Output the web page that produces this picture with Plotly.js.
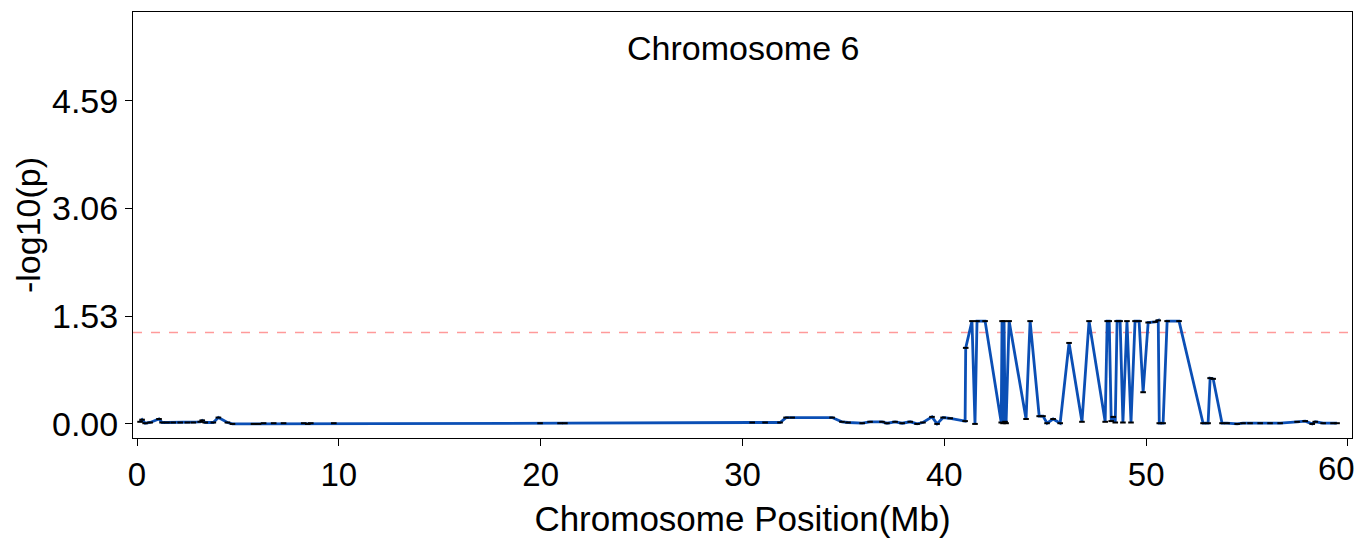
<!DOCTYPE html>
<html>
<head>
<meta charset="utf-8">
<script src="https://cdn.plot.ly/plotly-3.0.1.min.js"></script>
<style>html,body{margin:0;padding:0;background:#fff;}#chart{width:1357px;height:546px;}</style>
</head>
<body>
<div id="chart"></div>
<script>
// Chromosome position (Mb)
const positionMb = [
  0.15,0.25,0.40,0.65,1.09,1.24,1.49,1.79,2.14,2.49,2.79,3.13,3.23,3.38,3.78,4.03,4.48,4.73,5.77,6.02,6.27,6.77,7.26,8.26,8.46,8.61,9.75,
  19.97,20.96,21.20,
  30.48,31.12,31.86,32.16,32.46,34.44,34.93,35.23,35.93,36.32,36.91,37.16,37.56,37.91,38.31,38.65,38.94,39.39,39.64,39.94,40.29,
  41.03,41.06,41.37,41.52,41.62,42.02,42.82,42.86,42.91,42.96,43.01,43.06,43.21,44.05,44.25,44.70,44.89,45.09,45.39,45.74,46.18,46.82,47.17,
  47.97,48.07,48.17,48.27,48.37,48.47,48.56,48.71,48.85,49.05,49.25,49.45,49.65,49.85,50.10,50.45,50.60,50.65,50.84,51.04,51.63,
  52.82,53.07,53.17,53.32,53.76,54.01,54.51,54.80,55.15,55.65,56.14,56.64,57.48,57.88,58.23,58.38,58.77,59.26,59.46
];
// -log10(p)
const negLogP = [
  0.03,0.06,0.01,0.02,0.07,0.02,0.02,0.02,0.02,0.02,0.02,0.03,0.05,0.02,0.02,0.09,0.02,0.00,0.00,0.00,0.01,0.01,0.01,0.01,0.00,0.01,0.01,
  0.01,0.01,0.01,
  0.02,0.02,0.02,0.09,0.09,0.09,0.03,0.02,0.01,0.03,0.03,0.01,0.03,0.01,0.03,0.00,0.02,0.10,0.00,0.09,0.08,
  0.04,1.08,1.46,0.00,1.46,1.46,0.02,1.46,0.01,1.46,0.03,0.01,1.46,0.07,1.46,0.11,0.11,0.01,0.07,0.01,1.15,0.03,1.46,
  0.03,1.46,1.46,0.04,0.10,0.02,1.46,1.46,0.02,1.46,0.02,1.46,1.46,0.45,1.44,1.45,1.47,0.01,0.01,1.46,1.46,
  0.01,0.01,0.65,0.64,0.01,0.01,0.00,0.01,0.01,0.01,0.01,0.01,0.03,0.04,0.00,0.03,0.01,0.01,0.01
];
const chromosomeLabel = "Chromosome 6";
const yTickVals = [0, 1.53, 3.06, 4.59];
const yTickText = ["0.00", "1.53", "3.06", "4.59"];
const xTickVals = [0, 10, 20, 30, 40, 50, 60];
const xTickText = ["0", "10", "20", "30", "40", "50", ""];
const lastXTick = {value: 60, label: "60"};
const threshold = 1.30;

const trace = {
  x: positionMb, y: negLogP, type: 'scatter', mode: 'lines+markers',
  line: {color: '#0b4fb5', width: 2.8},
  marker: {symbol: 'line-ew-open', size: 4, color: '#000', line: {color: '#000', width: 2}},
  hoverinfo: 'x+y'
};

const font = 'Liberation Sans, Arial, sans-serif';
const layout = {
  width: 1357, height: 546,
  margin: {l: 133, r: 5, t: 12, b: 108},
  paper_bgcolor: '#fff', plot_bgcolor: '#fff',
  showlegend: false,
  font: {family: font, color: '#000'},
  xaxis: {
    range: [-0.2, 60.2], tickvals: xTickVals, ticktext: xTickText, ticks: 'outside', ticklen: 7, tickcolor: '#000',
    showline: true, linecolor: '#000', linewidth: 1, mirror: true, showgrid: false, zeroline: false,
    tickfont: {size: 33, family: font, color: '#000'},
    title: {text: 'Chromosome Position(Mb)', font: {size: 35, family: font, color: '#000'}, standoff: 14}
  },
  yaxis: {
    range: [-0.2, 5.85], tickvals: yTickVals, ticktext: yTickText, ticks: 'outside', ticklen: 7, tickcolor: '#000',
    showline: true, linecolor: '#000', linewidth: 1, mirror: true, showgrid: false, zeroline: false,
    tickfont: {size: 34, family: font, color: '#000'},
    title: {text: '-log10(p)', font: {size: 34, family: font, color: '#000'}, standoff: 1}
  },
  shapes: [{
    type: 'line', xref: 'paper', x0: 0, x1: 1, yref: 'y', y0: threshold, y1: threshold,
    line: {color: '#ff9a9a', width: 1.5, dash: 'dash'}, layer: 'below'
  }],
  annotations: [{
    text: chromosomeLabel, xref: 'paper', yref: 'paper', x: 0.5, y: 0.915,
    xanchor: 'center', yanchor: 'middle', showarrow: false,
    font: {size: 34, family: font, color: '#000'}
  }, {
    text: lastXTick.label, xref: 'x', yref: 'paper', x: lastXTick.value, y: 0,
    xanchor: 'right', yanchor: 'top', xshift: 9, yshift: -10, showarrow: false,
    font: {size: 33, family: font, color: '#000'}
  }]
};

Plotly.newPlot('chart', [trace], layout, {displayModeBar: false, staticPlot: true});
</script>
</body>
</html>
